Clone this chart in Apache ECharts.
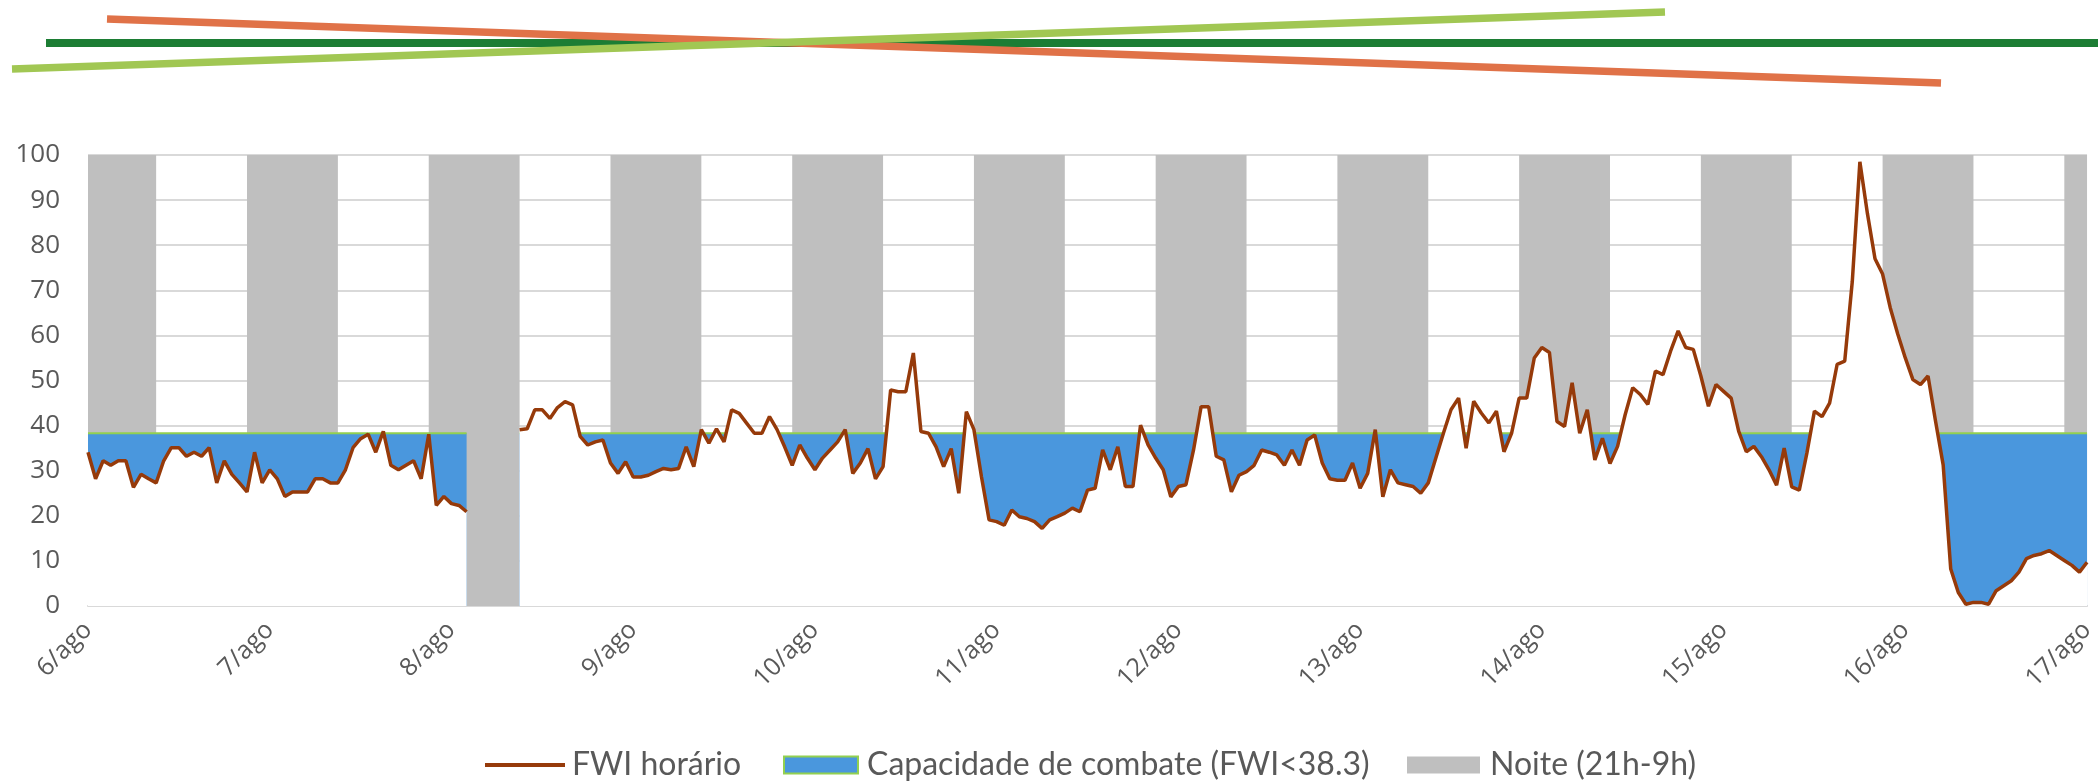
<!DOCTYPE html>
<html><head><meta charset="utf-8">
<script src="https://cdn.jsdelivr.net/npm/echarts@6/dist/echarts.min.js"></script>
<style>html,body{margin:0;padding:0;background:#fff}#c{width:2098px;height:782px}</style>
</head><body><div id="c"></div>
<script>
// x tick labels (one per day, every 24 hours)
const dayLabels = ['6/ago','7/ago','8/ago','9/ago','10/ago','11/ago','12/ago','13/ago','14/ago','15/ago','16/ago','17/ago'];
// hourly FWI from 6/ago 0h (index 0) to 17/ago 0h (index 264); null = missing
const fwiDay6to7 = [34.1,28.2,32.2,31.2,32.2,32.2,26.3,29.2,28.2,27.3,32.2,35.1,35.1,33.2,34.1,33.2,35.1,27.3,32.2,29.2,27.3,25.3,34.1,27.3,
  30.2,28.2,24.3,25.3,25.3,25.3,28.2,28.2,27.3,27.3,30.2,35.1,37.1,38.1,34.1,38.7,31.2,30.2,31.2,32.2,28.2,38.1,22.3,24.3];
const fwiDay8to9 = [22.7,22.3,20.9,null,null,null,null,null,null,39.1,39.3,43.5,43.5,41.6,44,45.3,44.6,37.6,35.7,36.4,36.8,31.7,29.4,32,
  28.6,28.6,29,29.8,30.5,30.2,30.5,35.3,30.9,39.1,36.1,39.3,36.4,43.5,42.7,40.5,38.3,38.3,42,39.1,35.3,31.2,35.7,32.8];
const fwiDay10to11 = [30.2,32.8,34.6,36.4,39.1,29.4,31.7,34.9,28.2,30.9,47.9,47.5,47.5,56.1,38.7,38.3,35.3,30.9,34.9,25,43.1,39.1,28.6,19.1,
  18.7,17.9,21.3,19.8,19.4,18.7,17.2,19.1,19.8,20.6,21.7,20.9,25.7,26.1,34.6,30.2,35.3,26.5,26.5,40.1,35.7,32.8,30.2,24.2];
const fwiDay12to13 = [26.5,26.9,34.6,44.2,44.2,33.2,32.4,25.3,29,29.8,31.2,34.6,34.1,33.5,31.2,34.6,31.2,36.8,37.9,31.7,28.2,27.9,27.9,31.7,
  26.1,29.4,39.1,24.2,30.2,27.3,26.9,26.5,25,27.3,32.8,38.3,43.5,46.1,35,45.4,42.8,40.6,43.2,34.2,38.3,46.1,46.1,55];
const fwiDay14to15 = [57.3,56.2,40.9,39.8,49.5,38.3,43.5,32.4,37.2,31.6,35.4,42.4,48.4,46.9,44.7,52.1,51.3,56.5,61,57.3,56.9,51,44.3,49.1,
  47.6,46.1,38.7,34.2,35.4,33.1,30.2,26.8,35,26.4,25.7,33.9,43.2,42,45,53.6,54.3,72,98.5,87,77,73.6,66.2,60.3];
const fwiDay16to17 = [55,50.2,49.1,51,40.9,31.3,8.2,3,0.4,0.8,0.8,0.4,3.4,4.5,5.6,7.5,10.5,11.2,11.6,12.3,11.2,10.1,9,7.5,
  9.7];
const fwi = [].concat(fwiDay6to7, fwiDay8to9, fwiDay10to11, fwiDay12to13, fwiDay14to15, fwiDay16to17);
// firefighting capacity threshold
const threshold = 38.3;
// night periods (21h-9h) as [start hour, end hour]
const nights = [[0,9],[21,33],[45,57],[69,81],[93,105],[117,129],[141,153],[165,177],[189,201],[213,225],[237,249],[261,264]];
const yTicks = [0,10,20,30,40,50,60,70,80,90,100];

const NAME_LINE = 'FWI horário';
const NAME_CAP = 'Capacidade de combate (FWI<38.3)';
const NAME_NIGHT = 'Noite (21h-9h)';
const BLUE = '#4A97DD', GREEN = '#92D050', BROWN = '#963A0A', GRAY = '#BFBFBF', TXT = '#595959';

const fwiPts = fwi.map((v, i) => [i, v == null ? '-' : v]);
const capPts = fwi.map((v, i) => [i, v == null ? '-' : threshold]);

const chart = echarts.init(document.getElementById('c'), null, {renderer: 'canvas'});
const legendText = {color: TXT, fontSize: 32, fontFamily: 'Lato, "Open Sans", sans-serif'};
chart.setOption({
  animation: false,
  backgroundColor: '#fff',
  grid: {left: 88, right: 8, top: 155, bottom: 176, containLabel: false},
  xAxis: {
    type: 'value', min: 0, max: 264, interval: 24,
    axisLine: {show: true, lineStyle: {color: '#D9D9D9', width: 2}},
    axisTick: {show: false},
    splitLine: {show: false},
    axisLabel: {rotate: 45, margin: 20, color: TXT, fontSize: 25, fontFamily: '"Open Sans", sans-serif',
      formatter: v => dayLabels[Math.round(v / 24)]}
  },
  yAxis: {
    type: 'value', min: yTicks[0], max: yTicks[yTicks.length - 1], interval: 10,
    axisLine: {show: false}, axisTick: {show: false},
    splitLine: {show: true, lineStyle: {color: '#D9D9D9', width: 2}},
    axisLabel: {margin: 28, color: TXT, fontSize: 26, fontFamily: '"Open Sans", sans-serif'}
  },
  legend: [
    {data: [{name: NAME_LINE, icon: 'rect', itemStyle: {color: BROWN}}], left: 480, top: 744, itemWidth: 80, itemHeight: 4,
      textStyle: Object.assign({}, legendText, {padding: [0,0,0,2]})},
    {data: [{name: NAME_CAP, icon: 'rect', itemStyle: {color: BLUE, borderColor: GREEN, borderWidth: 2}}],
      left: 778, top: 744, itemWidth: 74, itemHeight: 17, textStyle: Object.assign({}, legendText, {padding: [0,0,0,4]})},
    {data: [{name: NAME_NIGHT, icon: 'rect', itemStyle: {color: GRAY}}],
      left: 1402, top: 744, itemWidth: 73, itemHeight: 17, textStyle: Object.assign({}, legendText, {padding: [0,0,0,5]})}
  ],
  graphic: [
    {type: 'line', shape: {x1: 46, y1: 43, x2: 2098, y2: 43}, style: {stroke: '#1C7D34', lineWidth: 8}, z: 10},
    {type: 'line', shape: {x1: 107, y1: 19, x2: 1941, y2: 83}, style: {stroke: '#E07248', lineWidth: 7.5}, z: 11},
    {type: 'line', shape: {x1: 12, y1: 69, x2: 1665, y2: 12}, style: {stroke: '#A1C753', lineWidth: 7.5}, z: 12}
  ],
  series: [
    {
      name: NAME_NIGHT, type: 'custom', z: 1, silent: true,
      itemStyle: {color: GRAY},
      encode: {x: [0, 1]},
      data: nights,
      renderItem: (params, api) => {
        const p0 = api.coord([api.value(0), 100]);
        const p1 = api.coord([api.value(1), 0]);
        return {type: 'rect', shape: {x: p0[0], y: p0[1], width: p1[0] - p0[0], height: p1[1] - p0[1]},
          style: {fill: GRAY}};
      }
    },
    {
      name: NAME_CAP, type: 'line', z: 2, silent: true, symbol: 'none',
      itemStyle: {color: BLUE},
      lineStyle: {color: GREEN, width: 2}, areaStyle: {color: BLUE, opacity: 1}, data: capPts
    },
    {
      name: 'base', type: 'line', z: 3, silent: true, symbol: 'none',
      lineStyle: {width: 0}, areaStyle: {color: '#ffffff', opacity: 1}, data: fwiPts
    },
    {
      name: NAME_LINE, type: 'line', z: 4, silent: true, symbol: 'none',
      itemStyle: {color: BROWN},
      lineStyle: {color: BROWN, width: 3.5}, data: fwiPts
    }
  ]
});
</script>
</body></html>
